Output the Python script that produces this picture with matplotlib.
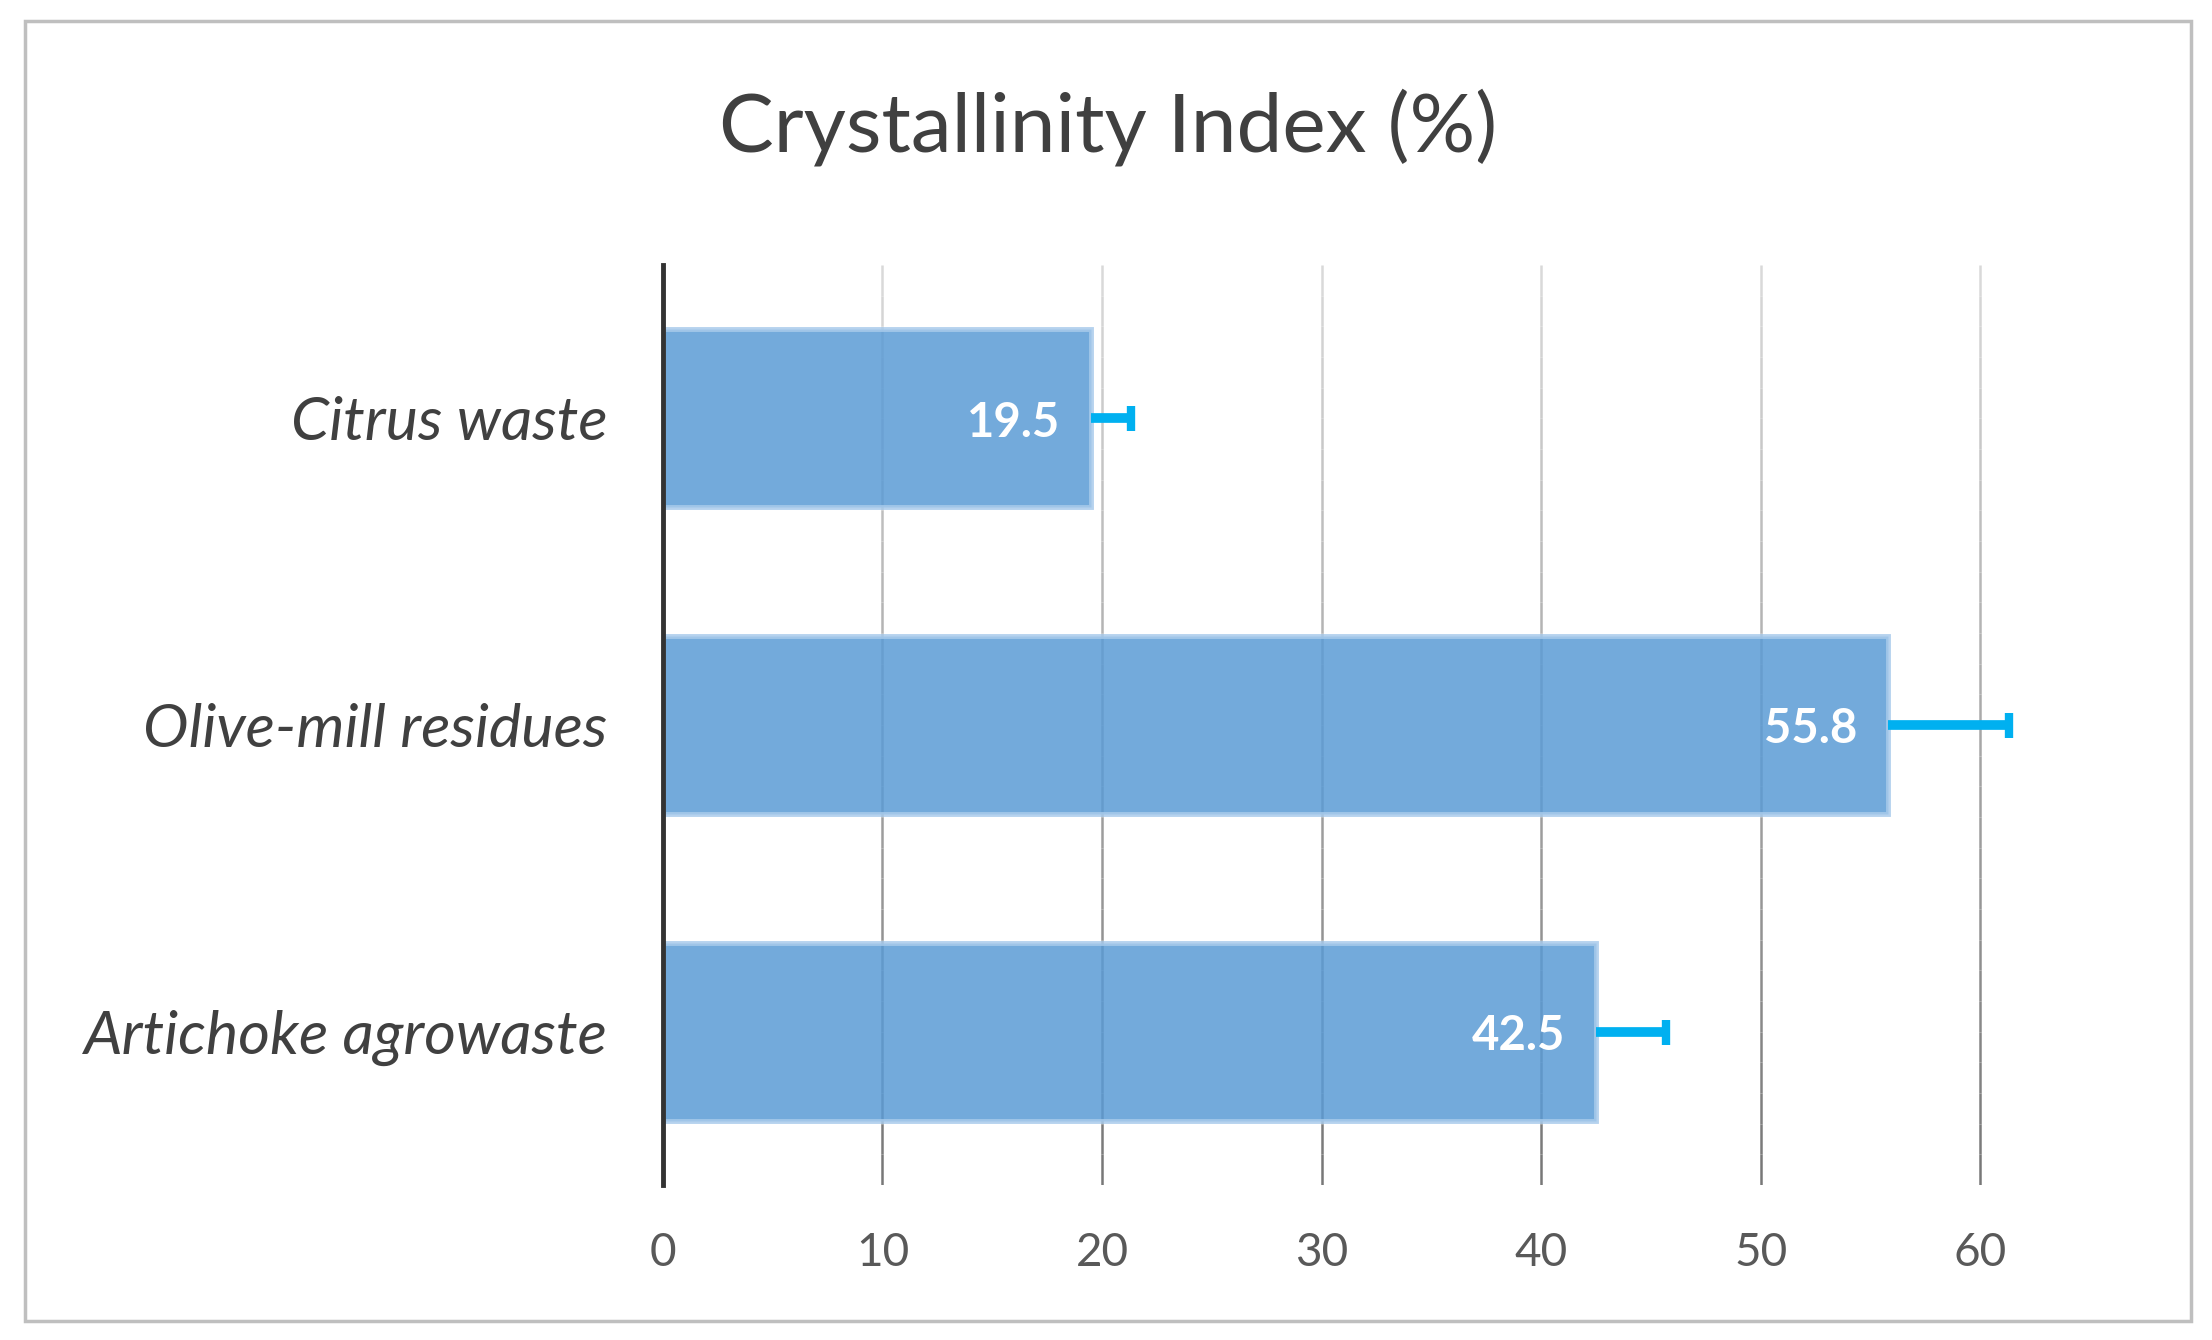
import numpy as np
import matplotlib
matplotlib.use("Agg")
from matplotlib import pyplot as plt
from matplotlib.patches import Rectangle

categories = ["Citrus waste", "Olive-mill residues", "Artichoke agrowaste"]
values = [19.5, 55.8, 42.5]
errors = [1.8, 5.5, 3.2]
xticks = [0, 10, 20, 30, 40, 50, 60]

plt.rcParams['font.family'] = ['Lato', 'DejaVu Sans']

fig = plt.figure(figsize=(22.12, 13.40), dpi=100)
fig.patch.set_facecolor("white")

# outer chart border
fig.add_artist(Rectangle((0.0115, 0.014), 0.979, 0.970, transform=fig.transFigure,
                         fill=False, edgecolor="#BFBFBF", linewidth=2.5))

ax = fig.add_axes([0.2997, 0.1157, 0.6253, 0.6865])
y = np.arange(len(categories))

# vertical gridlines, lighter at the top, darker at the bottom
nseg = 30
edges = np.linspace(-0.5, 2.5, nseg + 1)
for xt in xticks[1:]:
    for i in range(nseg):
        t = i / (nseg - 1)
        g = 0.85 - 0.38 * t
        ax.plot([xt, xt], [edges[i], edges[i + 1]], color=(g, g, g),
                linewidth=1.8, zorder=1, solid_capstyle="butt")

ax.barh(y, values, height=0.58, color="#5B9BD5", alpha=0.85,
        edgecolor="#A9CBEB", linewidth=3.5, zorder=2)

eb = ax.errorbar(values, y, xerr=[np.zeros(len(errors)), errors], fmt="none",
                 ecolor="#00B0F0", elinewidth=7, capsize=9, capthick=6, zorder=3)
eb[1][0].set_visible(False)

for yi, v in zip(y, values):
    ax.annotate(f"{v:.1f}", xy=(v, yi), xytext=(-22, -3), textcoords="offset points",
                ha="right", va="center", color="white", fontsize=34, fontweight="bold",
                zorder=4)

ax.set_xlim(0, 63)
ax.set_ylim(2.5, -0.5)
ax.set_xticks(xticks)
ax.set_yticks(y)
ax.set_yticklabels(categories, fontstyle="italic")
ax.tick_params(axis="x", length=0, pad=34, labelsize=33, labelcolor="#595959")
ax.tick_params(axis="y", length=0, pad=40, labelsize=44, labelcolor="#404040")

for s in ["top", "right", "bottom"]:
    ax.spines[s].set_visible(False)
ax.spines["left"].set_color("#333333")
ax.spines["left"].set_linewidth(3.5)
ax.spines["left"].set_zorder(5)

fig.text(0.501, 0.905, "Crystallinity Index (%)", ha="center", va="center",
         fontsize=59, color="#404040")

fig.savefig("out.png", dpi=100)
